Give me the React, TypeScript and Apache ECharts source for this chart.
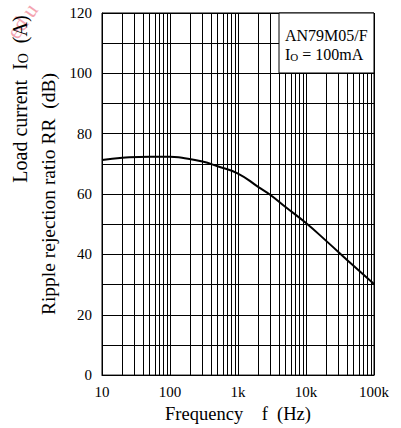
import React, { useEffect, useRef } from "react";
import * as echarts from "echarts";

// ---- data ----
const frequencies = [10, 20, 50, 100, 150, 300, 500, 1000, 2000, 3000, 5000, 10000, 20000, 50000, 100000];
const rippleRejection = [71.3, 72.0, 72.4, 72.4, 72.0, 70.8, 69.2, 66.8, 62.3, 59.7, 55.7, 50.4, 44.4, 36.2, 30.2];

const xTickValues = [10, 100, 1000, 10000, 100000];
const xTickLabels = ["10", "100", "1k", "10k", "100k"];
const yTickLabels = [0, 20, 40, 60, 80, 100, 120];
const minorGridFreqs = [
  20, 30, 40, 50, 60, 70, 80, 90,
  200, 300, 400, 500, 600, 700, 800, 900,
  2000, 3000, 4000, 5000, 6000, 7000, 8000, 9000,
  20000, 30000, 40000, 50000, 60000, 70000, 80000, 90000,
];

const SERIF = "Liberation Serif, serif";

export default function App() {
  const ref = useRef<HTMLDivElement>(null);

  useEffect(() => {
    if (!ref.current) return;
    const chart = echarts.init(ref.current, null, { renderer: "svg" });
    const seriesData = frequencies.map((f, i) => [f, rippleRejection[i]]);

    chart.setOption({
      animation: false,
      backgroundColor: "#fff",
      textStyle: { fontFamily: SERIF, color: "#000" },
      grid: {
        left: 102,
        right: 27,
        top: 13,
        bottom: 52,
        show: true,
        borderColor: "#000",
        borderWidth: 1,
      },
      xAxis: {
        type: "log",
        logBase: 10,
        min: 10,
        max: 100000,
        interval: 1,
        axisLine: { show: true, lineStyle: { color: "#000", width: 1 } },
        axisTick: { show: false },
        splitLine: { show: true, lineStyle: { color: "#000", width: 1 } },
        axisLabel: {
          color: "#000",
          fontFamily: SERIF,
          fontSize: 15,
          margin: 9,
          formatter: (v: number) => {
            const idx = xTickValues.findIndex((t) => Math.abs(t - v) / t < 1e-6);
            return idx >= 0 ? xTickLabels[idx] : "";
          },
        },
        name: "Frequency\u2002\u2002f\u2002(Hz)",
        nameLocation: "middle",
        nameGap: 26,
        nameTextStyle: { color: "#000", fontFamily: SERIF, fontSize: 18.5 },
      },
      yAxis: {
        type: "value",
        min: 0,
        max: 120,
        interval: 10,
        axisLine: { show: true, lineStyle: { color: "#000", width: 1 } },
        axisTick: { show: false },
        splitLine: { show: true, lineStyle: { color: "#000", width: 1 } },
        axisLabel: {
          color: "#000",
          fontFamily: SERIF,
          fontSize: 15,
          margin: 10,
          formatter: (v: number) => (yTickLabels.includes(v) ? String(v) : ""),
        },
        name: "Ripple rejection ratio RR\u2002(dB)",
        nameLocation: "middle",
        nameGap: 35,
        nameTextStyle: { color: "#000", fontFamily: SERIF, fontSize: 19.5 },
      },
      series: [
        {
          type: "line",
          data: seriesData,
          smooth: true,
          symbol: "none",
          lineStyle: { color: "#000", width: 2 },
          z: 5,
          markLine: {
            silent: true,
            symbol: ["none", "none"],
            label: { show: false },
            lineStyle: { color: "#000", width: 1, type: "solid" },
            z: 2,
            data: minorGridFreqs.map((f) => ({ xAxis: f })),
          },
        },
      ],
      graphic: [
        {
          type: "rect",
          z: 100,
          shape: { x: 279, y: 13, width: 95, height: 60 },
          style: { fill: "#fff", stroke: "#000", lineWidth: 1 },
        },
        {
          type: "text",
          z: 101,
          x: 285,
          y: 35,
          style: {
            text: "AN79M05/F",
            fontFamily: SERIF,
            fontSize: 16,
            fill: "#000",
            verticalAlign: "middle",
          },
        },
        {
          type: "text",
          z: 101,
          x: 285,
          y: 54,
          style: {
            text: "{a|I}{b|O}{a| = 100mA}",
            fill: "#000",
            verticalAlign: "middle",
            rich: {
              a: { fontFamily: SERIF, fontSize: 16, fill: "#000" },
              b: { fontFamily: SERIF, fontSize: 11, fill: "#000", verticalAlign: "bottom" },
            },
          },
        },
        {
          type: "text",
          z: 101,
          x: 20,
          y: 99,
          rotation: Math.PI / 2,
          style: {
            text: "{a|Load current\u2002I}{b|O}{a|\u2002(A)}",
            fill: "#000",
            align: "center",
            verticalAlign: "middle",
            rich: {
              a: { fontFamily: SERIF, fontSize: 20, fill: "#000" },
              b: { fontFamily: SERIF, fontSize: 14, fill: "#000", verticalAlign: "bottom" },
            },
          },
        },
        {
          type: "text",
          z: 99,
          x: 22,
          y: 21,
          rotation: 0.96,
          style: {
            text: "ed u",
            fontFamily: SERIF,
            fontSize: 22,
            fill: "#f4a5b1",
            align: "center",
            verticalAlign: "middle",
          },
        },
      ],
    });

    return () => chart.dispose();
  }, []);

  return (
    <div
      ref={ref}
      style={{ position: "fixed", left: 0, top: 0, width: 401, height: 428 }}
    />
  );
}
